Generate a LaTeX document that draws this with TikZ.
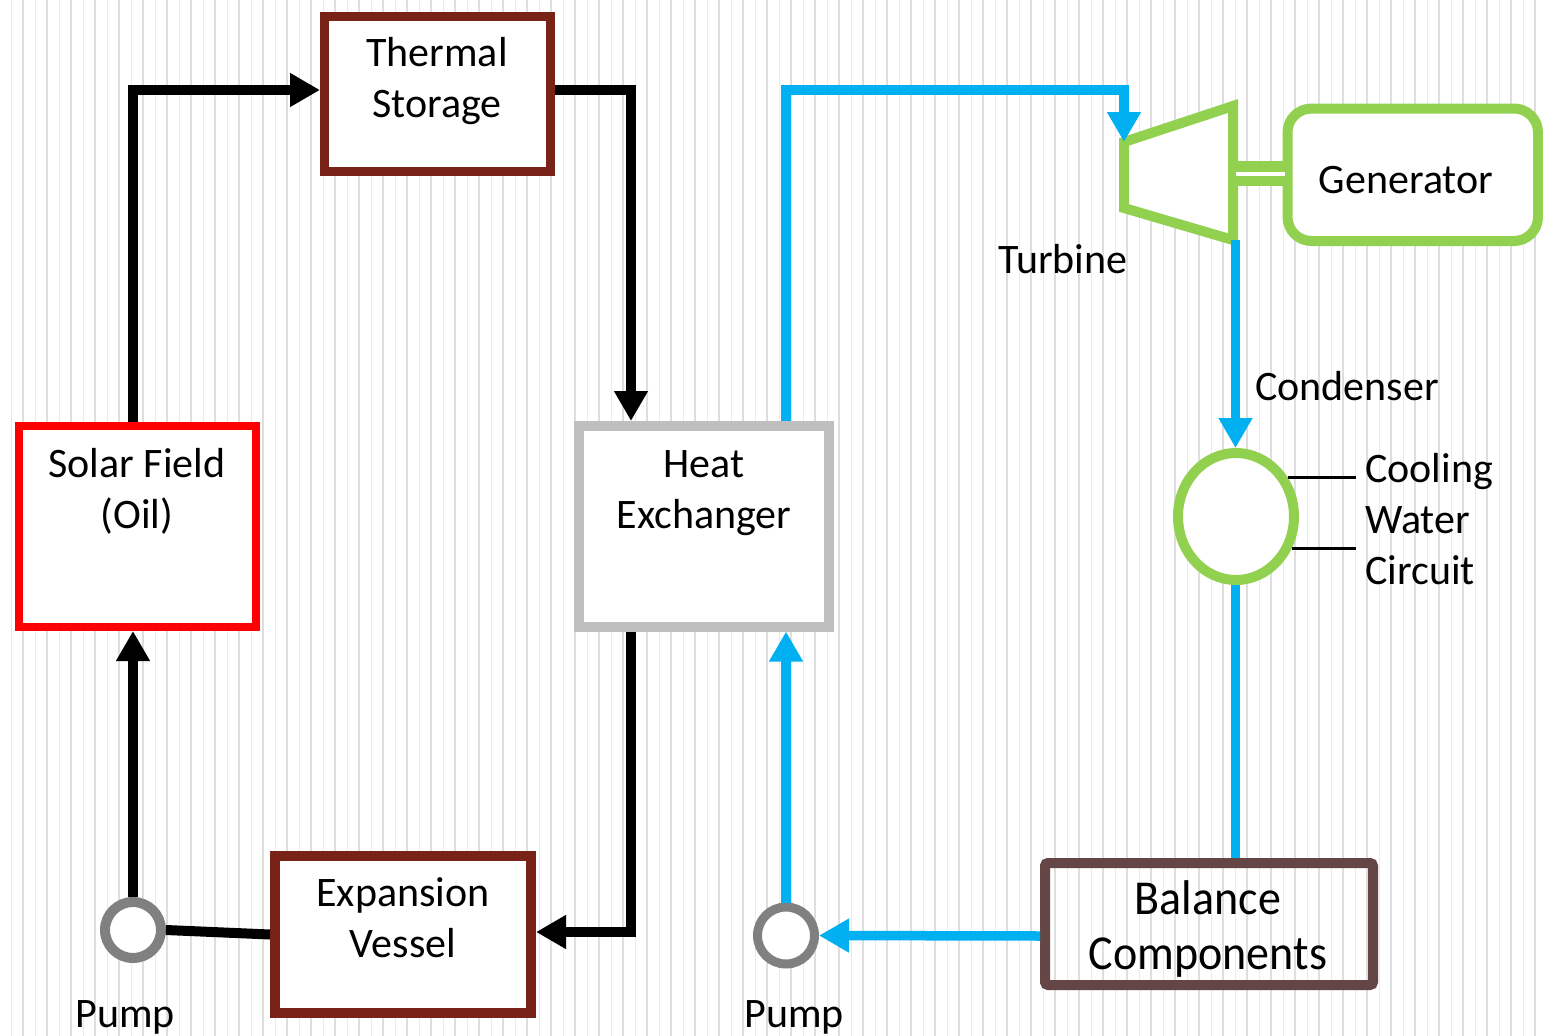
\documentclass[tikz,border=0pt]{standalone}
\usepackage{fontspec}
\setmainfont{Carlito}
\usetikzlibrary{arrows.meta,shapes.geometric,calc}
\definecolor{brownred}{RGB}{120,34,24}
\definecolor{hxgray}{RGB}{191,191,191}
\definecolor{bcbrown}{RGB}{100,70,70}
\definecolor{lgreen}{RGB}{146,208,80}
\definecolor{skyblue}{RGB}{0,176,240}
\definecolor{pumpgray}{RGB}{128,128,128}
\definecolor{stripeA}{RGB}{234,234,234}
\definecolor{stripeB}{RGB}{222,222,222}
\begin{document}
\begin{tikzpicture}[x=1pt,y=-1pt,
  box/.style={draw, rectangle, fill=white, inner sep=0pt},
  lbl/.style={font=\fontsize{42}{51}\selectfont, align=center, inner sep=0pt},
  flow/.style={line width=10pt, -{Triangle[length=30pt,width=32pt]}},
  plain/.style={line width=10pt},
  pumpc/.style={draw=pumpgray, circle, fill=white, inner sep=0pt}]
% background
\useasboundingbox (0,0) rectangle (1543,1036);
\fill[white] (0,0) rectangle (1543,1036);
\foreach \k in {0,...,64}{
  \draw[stripeA, line width=1pt] (11.3+24*\k,0) -- (11.3+24*\k,1036);
  \draw[stripeB, line width=1.6pt] (22.7+24*\k,0) -- (22.7+24*\k,1036);
}
% boxes
\node[box, draw=brownred, line width=9pt, minimum width=226pt, minimum height=155pt] (ts) at (437.5,94) {};
\node[box, draw=red, line width=8pt, minimum width=237pt, minimum height=201pt] (sf) at (137.5,526.5) {};
\node[box, draw=hxgray, line width=10pt, minimum width=250.5pt, minimum height=200.5pt] (hx) at (703.75,526.25) {};
\node[box, draw=brownred, line width=10pt, minimum width=256pt, minimum height=157pt] (ev) at (403,934.5) {};
\node[draw=bcbrown, rectangle, rounded corners=3pt, inner sep=0pt, line width=10pt, minimum width=328pt, minimum height=122pt] (bc) at (1209,924) {};
\node[box, draw=lgreen, rounded corners=24pt, line width=10pt, minimum width=250.5pt, minimum height=132.5pt] (gen) at (1412.75,174.75) {};
\node[draw=lgreen, ellipse, fill=white, inner sep=0pt, line width=10pt, minimum width=116pt, minimum height=127pt] (cond) at (1236,516.5) {};
\node[pumpc, line width=10pt, minimum size=56pt] (p1) at (133,930) {};
\node[pumpc, line width=9pt, minimum size=57pt] (p2) at (786,935.5) {};
% turbine
\coordinate (tin) at (1124,142);
\coordinate (tout) at (1235.5,240);
\draw[lgreen, fill=white, line width=10pt, line join=miter] (tin) -- (1233,106) -- (1233,240) -- (1124,208) -- cycle;
% shaft
\coordinate (sh1) at (1238,173.5);
\draw[lgreen, line width=25pt] (sh1) -- (sh1 -| gen.west);
\draw[white, line width=4pt] ([xshift=-2pt]sh1) -- ([xshift=2pt]sh1 -| gen.west);
% texts
\node[lbl] (tstxt) at (437,81) {Thermal\\Storage};
\node[lbl] (sftxt) at (137,491) {Solar Field\\(Oil)};
\node[lbl] (hxtxt) at (704,493) {Heat\\Exchanger};
\node[lbl] (evtxt) at (403,918) {Expansion\\Vessel};
\node[lbl, font=\fontsize{46}{52}\selectfont, yscale=1.06] (bctxt) at (1208,929) {Balance\\Components};
\node[lbl, anchor=base] (gentxt) at (1406,193) {Generator};
\node[lbl, anchor=base] (turbtxt) at (1063,273) {Turbine};
\node[lbl, anchor=base west] (condtxt) at (1255,400) {Condenser};
\node[lbl, align=left, anchor=west] (cwtxt) at (1365,519) {Cooling\\Water\\Circuit};
\node[lbl, anchor=base] (pump1txt) at (125,1027) {Pump};
\node[lbl, anchor=base] (pump2txt) at (794,1027) {Pump};
% black oil loop
\coordinate (hxx) at (631,0);
\draw[flow] (p1.north) -- (p1 |- sf.south);
\draw[flow] (p1 |- sf.north) |- ([yshift=4pt]ts.west);
\draw[flow] ([yshift=4pt]ts.east) -| (hx.north -| hxx);
\draw[flow] (hx.south -| hxx) |- ([yshift=2.5pt]ev.east);
\draw[plain] (p1.east) -- (ev.west);
% blue water loop
\coordinate (stm) at (1124,90);
\draw[flow, skyblue, line width=9.5pt] (p2.north) -- (p2 |- hx.south);
\draw[flow, skyblue, line width=9.5pt] (p2 |- hx.north) |- (stm) -- (tin);
\draw[flow, skyblue, line width=9.5pt] (tout) -- (tout |- cond.north);
\draw[plain, skyblue, line width=9.5pt] (tout |- cond.south) -- (tout |- bc.north);
\draw[flow, skyblue, line width=9.5pt] ([yshift=-12pt]bc.west) -- (p2.east);
% cooling water lines
\coordinate (cwend) at (1356,0);
\draw[line width=2.5pt] (cond.37) -- (cond.37 -| cwend);
\draw[line width=2.5pt] (cond.-30) -- (cond.-30 -| cwend);
\end{tikzpicture}
\end{document}
